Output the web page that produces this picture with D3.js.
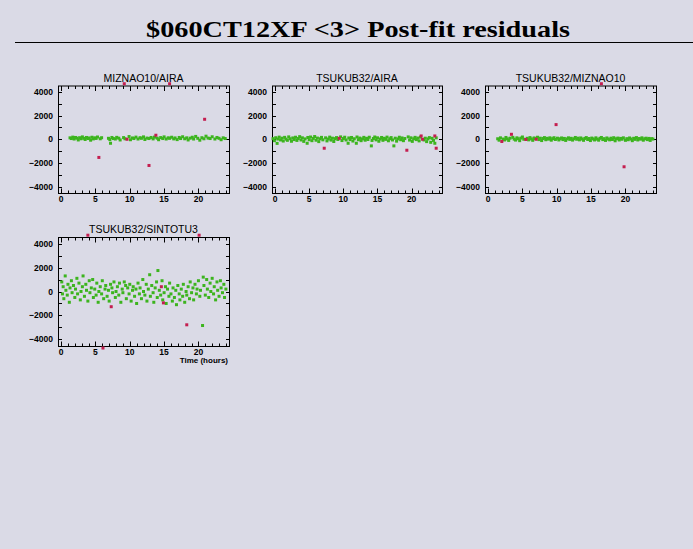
<!DOCTYPE html>
<html><head><meta charset="utf-8">
<script src="https://cdn.jsdelivr.net/npm/d3@7"></script>
<style>
html,body{margin:0;padding:0;background:#dadae6;}
svg{display:block;}
</style></head>
<body>
<svg id="c" width="693" height="549"></svg>
<script>
const chartTitle = "$060CT12XF <3> Post-fit residuals";
const panelTitles = ["MIZNAO10/AIRA", "TSUKUB32/AIRA", "TSUKUB32/MIZNAO10", "TSUKUB32/SINTOTU3"];
const xTickLabels = [0, 5, 10, 15, 20];
const yTickLabels = [-4000, -2000, 0, 2000, 4000];
const xAxisLabel = "Time (hours)";

// [hour, residual]
const greenP1 = [[1.3,120],[1.5,60],[1.7,180],[1.9,20],[2.1,150],[2.3,90],[2.5,-60],[2.7,130],[2.9,40],[3.1,200],[3.3,80],[3.5,-20],[3.7,150],[3.9,60],[4.1,110],[4.3,-80],[4.5,170],[4.7,30],[4.9,120],[5.1,70],[5.3,190],[5.7,40],[5.9,130],[6.9,80],[7.1,-30],[7.2,-340],[7.4,150],[7.6,60],[7.9,20],[8.1,160],[8.4,90],[8.6,-60],[9.1,140],[9.3,40],[9.9,230],[10.1,-40],[10.4,110],[10.6,60],[10.9,180],[11.2,20],[11.5,130],[11.7,80],[12.0,200],[12.2,-20],[12.5,100],[12.8,60],[13.1,150],[13.4,30],[13.6,180],[14.0,90],[14.2,-40],[14.5,140],[14.8,60],[15.0,200],[15.3,20],[15.6,120],[15.8,80],[16.1,170],[16.4,30],[16.6,110],[16.9,-30],[17.2,150],[17.4,60],[17.7,210],[18.0,40],[18.3,120],[18.5,-60],[18.8,90],[19.1,170],[19.3,20],[19.6,240],[19.9,80],[20.2,-80],[20.5,130],[20.8,40],[21.1,260],[21.4,100],[21.7,60],[22.0,210],[22.4,20],[22.7,150],[23.0,80],[23.3,-40],[23.6,120],[23.9,60]];
const redP1 = [[9.2,4700],[15.8,4700],[5.5,-1540],[12.8,-2220],[20.9,1690],[13.8,340],[9.6,0]];

const greenP2 = [[-0.3,50],[-0.1,-120],[0.1,130],[0.3,-350],[0.4,20],[0.6,180],[0.8,-60],[1.0,90],[1.2,-150],[1.4,160],[1.6,10],[1.8,-90],[2.0,200],[2.2,40],[2.4,-170],[2.6,110],[2.8,-30],[3.0,170],[3.2,-100],[3.4,60],[3.6,220],[3.8,-60],[4.0,120],[4.2,-180],[4.4,30],[4.7,-340],[4.8,150],[5.0,-40],[5.2,190],[5.4,-120],[5.6,70],[5.8,230],[6.0,-80],[6.2,100],[6.4,-200],[6.6,40],[6.8,160],[7.0,-50],[7.4,120],[7.6,-140],[7.8,20],[8.0,180],[8.2,-70],[8.4,90],[8.6,-190],[8.8,50],[9.0,140],[9.2,-20],[9.6,200],[9.8,-110],[10.0,60],[10.2,170],[10.4,-60],[10.7,-340],[10.8,110],[11.0,-30],[11.2,150],[11.4,-150],[11.6,40],[11.9,-340],[12.0,190],[12.2,-40],[12.4,100],[12.6,-120],[12.8,30],[13.0,160],[13.2,-80],[13.4,80],[13.6,-20],[13.8,170],[14.1,-560],[14.2,-100],[14.4,60],[14.6,190],[14.8,-50],[15.0,120],[15.2,-170],[15.4,20],[15.6,150],[15.8,-90],[16.0,80],[16.2,-10],[16.4,180],[16.6,-130],[16.8,40],[17.0,140],[17.2,-60],[17.4,-560],[17.6,90],[17.8,-160],[18.0,30],[18.2,170],[18.4,-40],[18.6,110],[18.8,-120],[19.0,60],[19.5,200],[19.7,-70],[19.9,120],[20.1,-180],[20.3,40],[20.5,160],[20.7,-30],[20.9,100],[21.1,-140],[21.3,180],[21.8,-60],[22.0,90],[22.2,-200],[22.4,30],[22.6,140],[22.8,-260],[23.0,80],[23.2,-100],[23.4,-340],[23.6,120]];
const redP2 = [[7.2,-760],[9.4,80],[19.3,-930],[21.4,280],[21.6,0],[23.4,280],[23.6,-760]];

const greenP3 = [[1.4,40],[1.6,-80],[1.8,120],[2.2,20],[2.4,-60],[2.6,150],[2.8,30],[3.0,-100],[3.2,90],[3.6,160],[3.8,10],[4.0,-70],[4.2,120],[4.4,40],[4.6,-120],[4.8,100],[5.0,190],[5.2,0],[5.7,80],[5.9,-50],[6.1,140],[6.3,30],[6.5,-90],[6.7,110],[6.9,50],[7.2,170],[7.4,-30],[7.6,90],[7.8,-110],[8.0,60],[8.2,140],[8.4,-40],[8.6,80],[8.8,10],[9.0,120],[9.2,-80],[9.4,50],[9.6,130],[9.8,-20],[10.1,90],[10.3,-60],[10.5,40],[10.7,110],[10.9,-30],[11.1,70],[11.3,-100],[11.5,30],[11.7,120],[11.9,-10],[12.1,80],[12.3,-70],[12.5,40],[12.7,150],[12.9,0],[13.1,90],[13.3,-50],[13.5,110],[13.7,20],[13.9,-90],[14.1,70],[14.3,140],[14.5,-20],[14.7,60],[14.9,-110],[15.1,100],[15.3,30],[15.5,-60],[15.7,120],[15.9,10],[16.1,-80],[16.3,80],[16.5,150],[16.7,-30],[16.9,50],[17.1,-100],[17.3,110],[17.5,20],[17.7,-50],[17.9,90],[18.1,-20],[18.3,130],[18.5,-130],[18.7,40],[18.9,100],[19.1,-60],[19.3,70],[19.5,0],[19.7,120],[20.0,-90],[20.2,50],[20.4,-40],[20.6,110],[20.8,20],[21.0,-120],[21.2,80],[21.4,-10],[21.6,140],[21.8,-60],[22.0,60],[22.2,10],[22.4,120],[22.6,-80],[22.8,40],[23.0,90],[23.2,-30],[23.4,70],[23.6,-100],[23.8,50],[24.0,20]];
const redP3 = [[2.0,-190],[3.4,420],[5.5,-20],[7.0,0],[9.9,1240],[16.5,4700],[19.8,-2330]];

const greenP4 = [[0.1,800],[0.2,-200],[0.3,400],[0.4,-600],[0.6,1300],[0.7,100],[0.9,-300],[1.0,600],[1.2,-900],[1.3,300],[1.5,900],[1.6,-100],[1.8,500],[2.0,-500],[2.1,200],[2.3,1100],[2.4,-200],[2.6,700],[2.8,-700],[2.9,0],[3.1,400],[3.2,1300],[3.4,-400],[3.6,600],[3.7,100],[3.9,-800],[4.1,900],[4.2,-100],[4.4,300],[4.6,1000],[4.7,-500],[4.9,200],[5.1,-300],[5.2,700],[5.4,-900],[5.5,0],[5.7,400],[5.9,-200],[6.0,900],[6.2,-600],[6.4,200],[6.5,500],[6.7,-400],[6.9,100],[7.0,-800],[7.2,600],[7.4,300],[7.5,-100],[7.7,800],[7.9,-500],[8.0,0],[8.2,400],[8.4,-300],[8.5,700],[8.7,-900],[8.9,200],[9.0,-100],[9.2,800],[9.4,500],[9.5,-600],[9.7,300],[9.9,-200],[10.0,600],[10.2,-800],[10.4,100],[10.5,400],[10.7,-400],[10.9,200],[11.0,-1000],[11.2,700],[11.4,-200],[11.5,300],[11.7,-600],[11.9,1000],[12.0,0],[12.2,-300],[12.4,600],[12.5,-800],[12.7,200],[12.9,1400],[13.0,-400],[13.2,500],[13.4,-100],[13.5,-900],[13.7,300],[13.9,800],[14.0,-500],[14.1,1750],[14.3,100],[14.5,-300],[14.7,900],[14.8,-700],[15.0,-100],[15.2,400],[15.3,-1000],[15.5,200],[15.7,-400],[15.8,700],[16.0,-200],[16.2,-800],[16.3,300],[16.5,-500],[16.7,100],[16.8,-1100],[17.0,500],[17.2,-200],[17.3,-700],[17.5,200],[17.7,-400],[17.8,600],[18.0,-900],[18.2,0],[18.3,-300],[18.5,400],[18.7,-600],[18.8,800],[19.0,-100],[19.2,300],[19.3,-700],[19.5,600],[19.7,-200],[19.8,200],[20.0,900],[20.2,-400],[20.3,100],[20.6,-2840],[20.7,1200],[20.8,500],[21.0,-300],[21.2,1000],[21.3,200],[21.5,-500],[21.7,700],[21.8,0],[22.0,1100],[22.2,-200],[22.3,400],[22.5,-700],[22.7,800],[22.8,100],[23.0,-400],[23.2,900],[23.3,300],[23.5,-100],[23.7,600],[23.8,-500],[24.0,200]];
const redP4 = [[3.9,4700],[20.1,4700],[6.1,-4720],[7.3,-1270],[14.6,400],[14.9,-950],[18.3,-2780]];

const greens = [greenP1, greenP2, greenP3, greenP4];
const reds = [redP1, redP2, redP3, redP4];

const svg = d3.select("#c");
const GREEN = "#3cb41e", RED = "#c41e50";

// title
svg.append("text").attr("x", 358).attr("y", 37).attr("text-anchor", "middle")
  .attr("font-family", "'Liberation Serif', 'DejaVu Serif', serif").attr("font-weight", "bold")
  .attr("font-size", 24).attr("textLength", 424).attr("lengthAdjust", "spacingAndGlyphs")
  .attr("fill", "#000").text(chartTitle);
svg.append("line").attr("x1", 15).attr("x2", 693).attr("y1", 42.5).attr("y2", 42.5)
  .attr("stroke", "#000").attr("stroke-width", 1);

const boxes = [
  {x0: 58, x1: 229, y0: 85.5, y1: 193},
  {x0: 272, x1: 442, y0: 85.5, y1: 193},
  {x0: 485, x1: 656, y0: 85.5, y1: 193},
  {x0: 58, x1: 229, y0: 237, y1: 346}
];

boxes.forEach((b, i) => {
  const x = d3.scaleLinear().domain([-0.45, 24.45]).range([b.x0, b.x1]);
  const y = d3.scaleLinear().domain([-4550, 4550]).range([b.y1, b.y0]);
  const g = svg.append("g");
  g.append("rect").attr("x", b.x0 + 0.5).attr("y", b.y0 + 0.5)
    .attr("width", b.x1 - b.x0).attr("height", b.y1 - b.y0)
    .attr("fill", "none").attr("stroke", "#000").attr("stroke-width", 1);

  const ff = "'Liberation Sans', Arial, sans-serif";
  // y ticks
  d3.range(-4000, 4001, 1000).forEach(v => {
    const yy = Math.round(y(v)) + 0.5;
    const len = 4;
    g.append("line").attr("x1", b.x0).attr("x2", b.x0 + len).attr("y1", yy).attr("y2", yy).attr("stroke", "#000");
    g.append("line").attr("x1", b.x1 + 1).attr("x2", b.x1 + 1 - len).attr("y1", yy).attr("y2", yy).attr("stroke", "#000");
  });
  yTickLabels.forEach(v => {
    g.append("text").attr("x", b.x0 - 5).attr("y", y(v) + 3).attr("text-anchor", "end")
      .attr("font-family", ff).attr("font-size", 8.5).attr("font-weight", "bold")
      .attr("fill", "#000").text(v < 0 ? "\u2212" + Math.abs(v) : String(v));
  });
  // x ticks
  d3.range(0, 25, 1).forEach(h => {
    const xx = Math.round(x(h)) + 0.5;
    const len = (h % 5 === 0) ? 5 : 3;
    g.append("line").attr("x1", xx).attr("x2", xx).attr("y1", b.y1 + 0.5).attr("y2", b.y1 + 0.5 - len).attr("stroke", "#000");
    g.append("line").attr("x1", xx).attr("x2", xx).attr("y1", b.y0 + 0.5).attr("y2", b.y0 + 0.5 + len).attr("stroke", "#000");
  });
  xTickLabels.forEach(h => {
    g.append("text").attr("x", x(h)).attr("y", b.y1 + 8.5).attr("text-anchor", "middle")
      .attr("font-family", ff).attr("font-size", 8.5).attr("font-weight", "bold")
      .attr("fill", "#000").text(h);
  });
  // panel title
  g.append("text").attr("x", (b.x0 + b.x1) / 2).attr("y", b.y0 - 4).attr("text-anchor", "middle")
    .attr("font-family", ff).attr("font-size", 10.5)
    .attr("fill", "#000").text(panelTitles[i]);

  // points
  g.selectAll("rect.gp").data(greens[i]).enter().append("rect").attr("class", "gp")
    .attr("x", d => x(d[0]) - 1.5).attr("y", d => y(d[1]) - 1.5)
    .attr("width", 3).attr("height", 3).attr("fill", GREEN);
  g.selectAll("rect.rp").data(reds[i]).enter().append("rect").attr("class", "rp")
    .attr("x", d => x(d[0]) - 1.5).attr("y", d => y(d[1]) - 1.5)
    .attr("width", 3).attr("height", 3).attr("fill", RED);

  if (i === 3) {
    g.append("text").attr("x", b.x1 - 1).attr("y", b.y1 + 16.5).attr("text-anchor", "end")
      .attr("font-family", ff).attr("font-size", 8).attr("font-weight", "bold")
      .attr("fill", "#000").text(xAxisLabel);
  }
});
</script>
</body></html>
